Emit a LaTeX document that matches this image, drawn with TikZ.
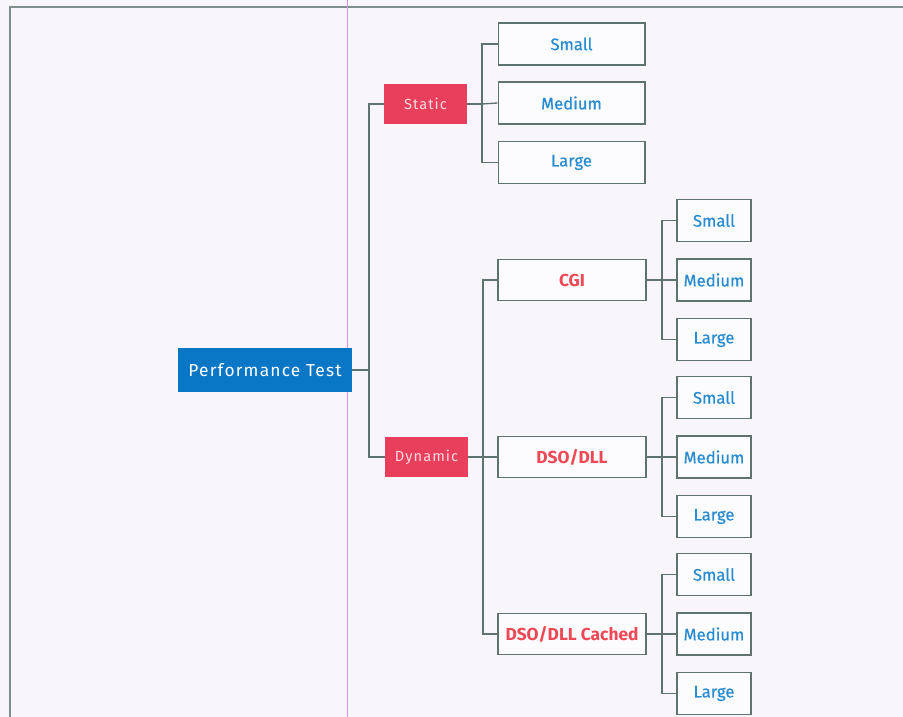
\documentclass[tikz,border=0pt]{standalone}
\usepackage{fontspec}
\setmainfont{Fira Sans}
\newfontfamily\spacedfont[LetterSpace=7]{Fira Sans}
\newfontfamily\leaffont[FakeBold=0.5]{Fira Sans}
\usetikzlibrary{math}
\definecolor{pageback}{RGB}{248,246,251}
\definecolor{pblue}{RGB}{10,118,198}
\definecolor{pred}{RGB}{232,64,92}
\definecolor{ptext}{RGB}{40,140,210}
\definecolor{ptextred}{RGB}{240,72,84}
\definecolor{pline}{RGB}{95,115,110}
\definecolor{pguide}{RGB}{215,150,232}

\tikzset{
  rootbox/.style={fill=pblue, text=white, inner sep=0pt, minimum width=130.5pt,
    minimum height=33pt, font=\spacedfont\fontsize{13}{15}\selectfont},
  catbox/.style={fill=pred, text=pred!20, inner sep=0pt, minimum width=62pt,
    minimum height=30.5pt, font=\spacedfont\fontsize{11}{13}\selectfont},
  midbox/.style={draw=pline, line width=1pt, fill=white!60!pageback, text=ptextred,
    inner sep=0pt, minimum width=111pt, minimum height=31pt,
    font=\bfseries\fontsize{13}{15}\selectfont},
  sizebox/.style={draw=pline, line width=1pt, fill=white!60!pageback, text=ptext,
    inner sep=0pt, minimum width=55.5pt, minimum height=31.5pt,
    font=\leaffont\fontsize{12.5}{15}\selectfont},
  link/.style={draw=pline, line width=1pt},
}

\begin{document}
\begin{tikzpicture}[x=0.75pt,y=-0.75pt]

\fill[pageback] (0,0) rectangle (903,717);
\useasboundingbox (0,0) rectangle (903,717);

% page frame and guide
\draw[pline!80, line width=1.5pt] (10,717) -- (10,7) -- (903,7);
\draw[pguide, line width=0.6pt] (347,0) -- (347,717);

%root and categories
\node[rootbox] (perf) at (265,370) {Performance Test};
\node[catbox] (static) at (425.5,104) {Static};
\node[catbox] (dynamic) at (426.5,457) {Dynamic};

\coordinate (j0) at (369,370);
\draw[link] (perf.east) -- (j0);
\draw[link] (static.west) -| (j0) |- (dynamic.west);

%static sizes
\node[sizebox, minimum width=110pt] (static-small) at (571.5,44) {Small};
\node[sizebox, minimum width=110pt] (static-medium) at (571.5,103) {Medium};
\node[sizebox, minimum width=110pt] (static-large) at (571.5,162.5) {Large};

\coordinate (j1) at (482,104);
\draw[link] (static.east) -- (j1);
\draw[link] (static-small.west) -| (j1) |- (static-large.west);
\draw[link] (j1) -- (static-medium.west);

%dynamic kinds
\foreach \m/\y/\lbl in {cgi/280/CGI, dso/457/{DSO/DLL}, cached/634/{DSO/DLL Cached}}{
  \node[midbox] (\m) at (572,\y) {\lbl};
  \node[sizebox] (\m-small) at (714,\y-59.5) {Small};
  \node[sizebox] (\m-medium) at (714,\y) {Medium};
  \node[sizebox] (\m-large) at (714,\y+59.5) {Large};
  \coordinate (j-\m) at (662,\y);
  \draw[link] (\m.east) -- (j-\m);
  \draw[link] (\m-small.west) -| (j-\m) |- (\m-large.west);
  \draw[link] (j-\m) -- (\m-medium.west);
}

\coordinate (jd) at (483,457);
\draw[link] (dynamic.east) -- (jd);
\draw[link] (cgi.west) -| (jd) |- (cached.west);
\draw[link] (jd) -- (dso.west);

\end{tikzpicture}
\end{document}
